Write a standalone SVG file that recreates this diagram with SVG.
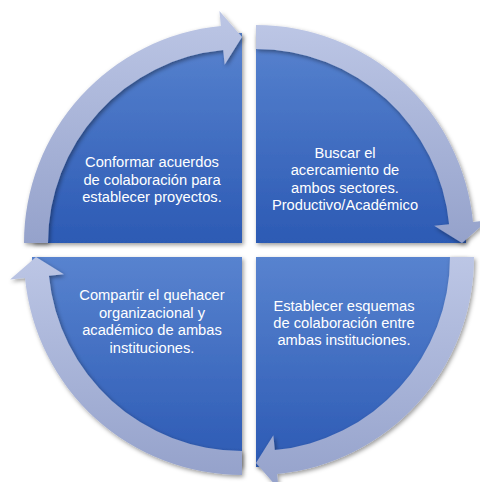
<svg xmlns="http://www.w3.org/2000/svg" width="480" height="482" viewBox="0 0 480 482">
  <defs>
    <linearGradient id="pieGrad" x1="0" y1="0" x2="0" y2="1">
      <stop offset="0" stop-color="#5883cf"/>
      <stop offset="1" stop-color="#2c5ab4"/>
    </linearGradient>
    <linearGradient id="ringGrad" x1="0" y1="0" x2="0" y2="1">
      <stop offset="0" stop-color="#bcc6e5"/>
      <stop offset="1" stop-color="#95a2cb"/>
    </linearGradient>
    <filter id="shadow" x="-10%" y="-10%" width="120%" height="120%">
      <feDropShadow dx="1.5" dy="2" stdDeviation="2" flood-color="#000" flood-opacity="0.4"/>
    </filter>
    <style>
      .pie { fill: url(#pieGrad); filter: url(#shadow); }
      .ring { fill: url(#ringGrad); filter: url(#shadow); }
      .lbl { font-family: "Liberation Sans", Arial, sans-serif; font-size: 14.7px; fill: #ffffff; text-anchor: middle; }
    </style>
  </defs>
  <rect width="480" height="482" fill="#ffffff"/>

  <g id="node-top-left">
    <path class="pie" d="M242,243 L32,243 A210 210 0 0 1 242,33 Z"/>
    <text class="lbl" x="152" y="167.3">Conformar acuerdos</text>
    <text class="lbl" x="152" y="184.8">de colaboración para</text>
    <text class="lbl" x="152" y="202.3">establecer proyectos.</text>
  </g>

  <g id="node-top-right">
    <path class="pie" d="M256,243 L256,33 A210 210 0 0 1 466,243 Z"/>
    <text class="lbl" x="345" y="157.6">Buscar el</text>
    <text class="lbl" x="345" y="175.1">acercamiento de</text>
    <text class="lbl" x="345" y="192.6">ambos sectores.</text>
    <text class="lbl" x="345" y="210.1">Productivo/Académico</text>
  </g>

  <g id="node-bottom-right">
    <path class="pie" d="M256,257 L466,257 A210 210 0 0 1 256,467 Z"/>
    <text class="lbl" x="344" y="310.8">Establecer esquemas</text>
    <text class="lbl" x="344" y="328.1">de colaboración entre</text>
    <text class="lbl" x="344" y="345.4">ambas instituciones.</text>
  </g>

  <g id="node-bottom-left">
    <path class="pie" d="M242,257 L242,467 A210 210 0 0 1 32,257 Z"/>
    <text class="lbl" x="152" y="300.2">Compartir el quehacer</text>
    <text class="lbl" x="152" y="317.7">organizacional y</text>
    <text class="lbl" x="152" y="335.2">académico de ambas</text>
    <text class="lbl" x="152" y="352.7">instituciones.</text>
  </g>

  <g id="connectors">
    <path class="ring" d="M24,243 A218 218 0 0 1 220.88,26.02 L219.42,11.1 L242,37 L224.65,64.84 L223.2,49.91 A194 194 0 0 0 48,243 Z"/>
    <path class="ring" d="M256,25 A218 218 0 0 1 472.98,221.88 L487.9,220.42 L462,243 L434.16,225.65 L449.09,224.2 A194 194 0 0 0 256,49 Z"/>
    <path class="ring" d="M474,257 A218 218 0 0 1 277.12,473.98 L278.58,488.9 L256,463 L273.35,435.16 L274.8,450.09 A194 194 0 0 0 450,257 Z"/>
    <path class="ring" d="M242,475 A218 218 0 0 1 25.02,278.12 L10.1,279.58 L36,257 L63.84,274.35 L48.91,275.8 A194 194 0 0 0 242,451 Z"/>
  </g>
</svg>
